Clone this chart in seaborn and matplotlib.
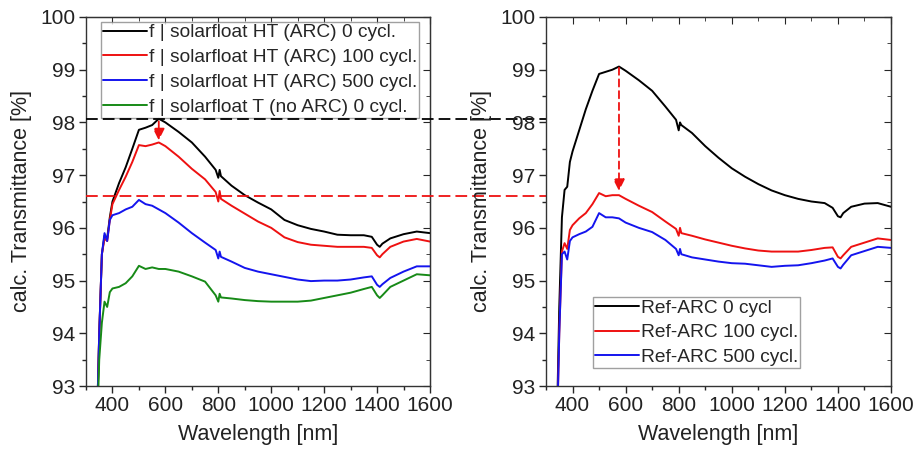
import numpy as np
import pandas as pd
import matplotlib
matplotlib.use('Agg')
import matplotlib.pyplot as plt
import seaborn as sns

# wavelength grid (nm) shared by all curves
wl = [340, 350, 360, 370, 380, 390, 400, 425, 450, 475, 500, 525, 550, 575, 600,
      650, 700, 750, 790, 800, 805, 810, 850, 900, 950, 1000, 1050, 1100, 1150,
      1200, 1250, 1300, 1350, 1380, 1400, 1410, 1420, 1450, 1500, 1550, 1600]

# left panel: solarfloat samples
ht_0 = [92.0, 94.0, 95.5, 95.85, 95.8, 96.2, 96.5, 96.85, 97.15, 97.5, 97.86, 97.9,
        97.95, 98.07, 98.0, 97.82, 97.62, 97.35, 97.1, 96.95, 97.1, 96.98, 96.8,
        96.62, 96.48, 96.35, 96.15, 96.05, 95.98, 95.93, 95.87, 95.86, 95.86, 95.83,
        95.68, 95.64, 95.7, 95.8, 95.88, 95.93, 95.9]
ht_100 = [92.0, 94.0, 95.5, 95.8, 95.75, 96.15, 96.45, 96.72, 96.97, 97.25, 97.57,
          97.55, 97.58, 97.62, 97.55, 97.35, 97.12, 96.92, 96.68, 96.5, 96.7, 96.55,
          96.42, 96.27, 96.12, 96.0, 95.82, 95.73, 95.68, 95.66, 95.64, 95.64, 95.64,
          95.62, 95.48, 95.44, 95.5, 95.64, 95.74, 95.79, 95.74]
ht_500 = [92.0, 94.0, 95.5, 95.9, 95.75, 96.15, 96.24, 96.28, 96.35, 96.4, 96.53,
          96.45, 96.42, 96.35, 96.28, 96.1, 95.9, 95.72, 95.58, 95.42, 95.55, 95.45,
          95.36, 95.24, 95.17, 95.12, 95.07, 95.02, 94.99, 95.0, 95.0, 95.02, 95.06,
          95.08, 94.92, 94.88, 94.93, 95.05, 95.17, 95.27, 95.27]
t_0 = [91.8, 93.5, 94.2, 94.6, 94.5, 94.78, 94.85, 94.88, 94.95, 95.08, 95.28, 95.22,
       95.25, 95.22, 95.22, 95.17, 95.08, 94.98, 94.72, 94.6, 94.75, 94.68, 94.66,
       94.63, 94.61, 94.6, 94.6, 94.6, 94.62, 94.67, 94.72, 94.77, 94.84, 94.88,
       94.72, 94.67, 94.72, 94.88, 95.0, 95.12, 95.1]

# right panel: reference ARC glass
ref_0 = [92.0, 94.5, 96.2, 96.72, 96.78, 97.25, 97.45, 97.85, 98.25, 98.6, 98.92,
         98.96, 99.0, 99.06, 98.98, 98.8, 98.6, 98.3, 98.05, 97.85, 98.0, 97.95,
         97.8, 97.55, 97.33, 97.13, 96.97, 96.83, 96.71, 96.62, 96.55, 96.5, 96.47,
         96.38, 96.22, 96.2, 96.28, 96.4, 96.46, 96.47, 96.4]
ref_100 = [91.8, 94.0, 95.55, 95.71, 95.6, 95.96, 96.05, 96.18, 96.28, 96.45, 96.66,
           96.6, 96.62, 96.62, 96.55, 96.42, 96.3, 96.12, 95.98, 95.85, 96.0, 95.9,
           95.85, 95.78, 95.72, 95.66, 95.61, 95.57, 95.55, 95.55, 95.55, 95.58,
           95.62, 95.63, 95.45, 95.42, 95.48, 95.64, 95.72, 95.8, 95.77]
ref_500 = [91.8, 94.0, 95.5, 95.55, 95.4, 95.75, 95.82, 95.88, 95.93, 96.02, 96.28,
           96.2, 96.2, 96.18, 96.1, 96.0, 95.92, 95.77, 95.6, 95.48, 95.6, 95.5,
           95.44, 95.4, 95.36, 95.33, 95.32, 95.29, 95.26, 95.28, 95.29, 95.33,
           95.38, 95.42, 95.26, 95.23, 95.3, 95.48, 95.56, 95.64, 95.62]

left_labels = ['f | solarfloat HT (ARC) 0 cycl.', 'f | solarfloat HT (ARC) 100 cycl.',
               'f | solarfloat HT (ARC) 500 cycl.', 'f | solarfloat T (no ARC) 0 cycl.']
right_labels = ['Ref-ARC 0 cycl', 'Ref-ARC 100 cycl.', 'Ref-ARC 500 cycl.']

# reference levels and arrows
level_black = 98.07
level_red = 96.6
arrow_wl = 575
left_arrow = (98.02, 97.66)
right_arrow = (99.04, 96.7)

BLACK, RED, BLUE, GREEN = '#000000', '#ee1111', '#1414ee', '#178a17'

sns.set_style('ticks')
plt.rcParams['font.family'] = ['Liberation Sans', 'DejaVu Sans']

fig = plt.figure(figsize=(9.13, 4.54), dpi=100)
W, H = 913, 454
ax1 = fig.add_axes([86 / W, 1 - 386 / H, 344 / W, 369 / H])
ax2 = fig.add_axes([546 / W, 1 - 386 / H, 345 / W, 369 / H])


def draw_panel(ax, series, labels, colors):
    for vals, lab, col in zip(series, labels, colors):
        df = pd.DataFrame({'wl': wl, 'T': vals})
        sns.lineplot(data=df, x='wl', y='T', ax=ax, color=col, lw=1.4, label=lab)
    ax.set_xlim(300, 1600)
    ax.set_ylim(93, 100)
    ax.set_xticks(np.arange(400, 1601, 200))
    ax.set_xticks(np.arange(300, 1601, 100), minor=True)
    ax.set_yticks(np.arange(93, 100.1, 1))
    ax.set_yticks(np.arange(93, 100.1, 0.5), minor=True)
    ax.set_xlabel('Wavelength [nm]', fontsize=15.5, color='#222222', labelpad=6)
    ax.set_ylabel('calc. Transmittance [%]', fontsize=15.5, color='#222222', labelpad=6)
    ax.tick_params(which='major', direction='out', length=5, width=1, labelsize=15,
                   labelcolor='#222222', pad=2.5)
    ax.tick_params(which='minor', direction='out', length=3, width=1)
    for sp in ax.spines.values():
        sp.set_linewidth(1.0)
        sp.set_color('#333333')
    # mirrored inward ticks on top and right
    top = ax.secondary_xaxis('top')
    top.set_xticks(np.arange(400, 1601, 200))
    top.set_xticks(np.arange(300, 1601, 100), minor=True)
    top.tick_params(which='major', direction='in', length=5, labeltop=False)
    top.tick_params(which='minor', direction='in', length=3)
    right = ax.secondary_yaxis('right')
    right.set_yticks(np.arange(93, 100.1, 1))
    right.set_yticks(np.arange(93, 100.1, 0.5), minor=True)
    right.tick_params(which='major', direction='in', length=5, labelright=False)
    right.tick_params(which='minor', direction='in', length=3)


draw_panel(ax1, [ht_0, ht_100, ht_500, t_0], left_labels, [BLACK, RED, BLUE, GREEN])
draw_panel(ax2, [ref_0, ref_100, ref_500], right_labels, [BLACK, RED, BLUE])

leg_kw = dict(fontsize=13.8, frameon=True, fancybox=False, edgecolor='#888888',
              handlelength=2.3, handletextpad=0.1, borderpad=0.1, labelspacing=0.38,
              borderaxespad=0)
l1 = ax1.legend(loc='upper left', bbox_to_anchor=(0.044, 0.986), **leg_kw)
l2 = ax2.legend(loc='lower left', bbox_to_anchor=(0.136, 0.049), **leg_kw)
for lg in (l1, l2):
    lg.get_frame().set_linewidth(1.0)

# dashed reference levels spanning both panels
span = (885 - 86) / 344
for lvl, col in ((level_black, BLACK), (level_red, RED)):
    ax1.plot([0, span], [lvl, lvl], transform=ax1.get_yaxis_transform(), color=col,
             lw=1.3, ls=(0, (6.5, 2.8)), clip_on=False, zorder=6)

# arrows showing the drop in transmittance
arrow_kw = dict(arrowstyle='-|>,head_length=0.7,head_width=0.35', color=RED, lw=1.3,
                ls=(0, (4, 2.5)), shrinkA=0, shrinkB=0)
ax1.annotate('', xy=(arrow_wl, left_arrow[1]), xytext=(arrow_wl, left_arrow[0]),
             arrowprops=arrow_kw)
ax2.annotate('', xy=(arrow_wl, right_arrow[1]), xytext=(arrow_wl, right_arrow[0]),
             arrowprops=arrow_kw)

plt.savefig('out.png', dpi=100)
plt.close()
